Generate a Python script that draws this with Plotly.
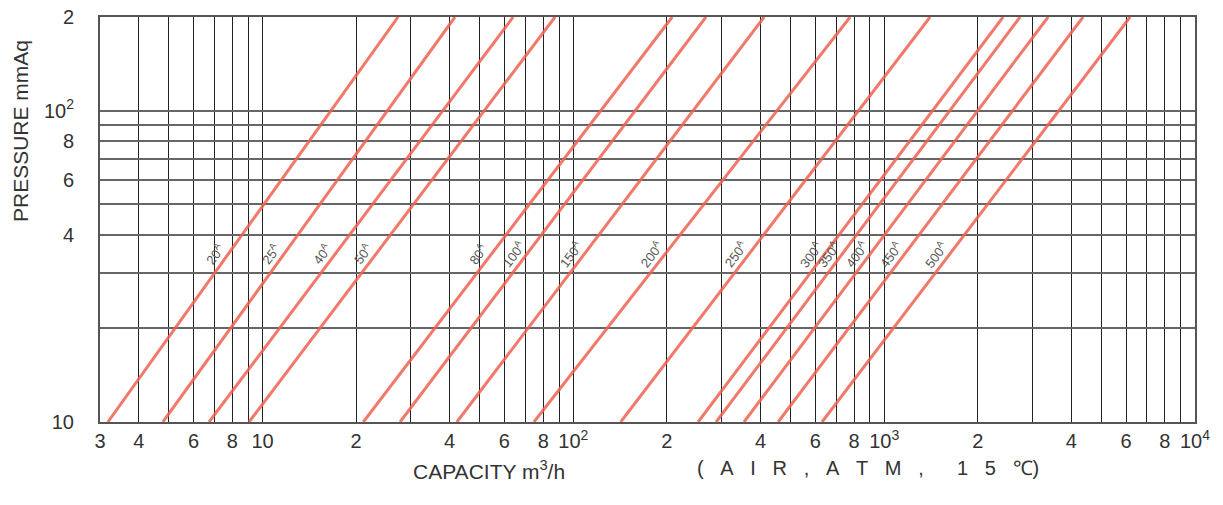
import plotly.graph_objects as go
import numpy as np

# ---- data ----
sizes = ["20", "25", "40", "50", "80", "100", "150", "200", "250", "300", "350", "400", "450", "500"]
q_at_p10 = [3.18, 4.78, 6.73, 9.05, 21.1, 27.7, 42.2, 74.7, 142, 252, 288, 354, 456, 631]      # m3/h at 10 mmAq
q_at_p200 = [27.3, 41.6, 64.0, 87.3, 208, 267, 411, 777, 1405, 2413, 2736, 3368, 4364, 6183]  # m3/h at 200 mmAq
p_low, p_high = 10, 200
label_pressure = 34

x_grid = [3, 4, 5, 6, 7, 8, 9,
          10, 20, 30, 40, 50, 60, 70, 80, 90,
          100, 200, 300, 400, 500, 600, 700, 800, 900,
          1000, 2000, 3000, 4000, 5000, 6000, 7000, 8000, 9000, 10000]
x_text = ["3", "4", "", "6", "", "8", "",
          "10", "2", "", "4", "", "6", "", "8", "",
          "10<sup>2</sup>", "2", "", "4", "", "6", "", "8", "",
          "10<sup>3</sup>", "2", "", "4", "", "6", "", "8", "",
          "10<sup>4</sup>"]
y_grid = [10, 20, 30, 40, 50, 60, 70, 80, 90, 100, 200]
y_text = ["10", "", "", "4", "", "6", "", "8", "", "10<sup>2</sup>", "2"]

FONT = "Liberation Sans, Arial, sans-serif"
RED = "rgba(238,96,80,0.85)"
SP = "\u00a0\u00a0\u00a0"

fig = go.Figure()
for name, qa, qb in zip(sizes, q_at_p10, q_at_p200):
    fig.add_trace(go.Scatter(x=[qa, qb], y=[p_low, p_high], mode="lines",
                             line=dict(color=RED, width=3), showlegend=False,
                             hoverinfo="skip"))
    t = (np.log10(label_pressure) - np.log10(p_low)) / (np.log10(p_high) - np.log10(p_low))
    lq = 10 ** (np.log10(qa) + t * (np.log10(qb) - np.log10(qa)))
    fig.add_annotation(x=np.log10(lq), y=np.log10(label_pressure), xref="x", yref="y",
                       text=name + "<sup>A</sup>", showarrow=False, textangle=-53,
                       xshift=-12, yshift=3,
                       font=dict(family=FONT, size=13, color="#555"))

fig.update_xaxes(type="log", range=[np.log10(3), 4], tickmode="array",
                 tickvals=x_grid, ticktext=x_text, showgrid=True,
                 gridcolor="#222", gridwidth=1.2, ticks="", showline=True,
                 linecolor="#555", linewidth=2, mirror=True, zeroline=False,
                 automargin=False,
                 tickfont=dict(family=FONT, size=20, color="#333"))
fig.update_yaxes(type="log", range=[1, np.log10(200)], tickmode="array",
                 tickvals=y_grid, ticktext=y_text, showgrid=True,
                 gridcolor="#666", gridwidth=2, ticks="", showline=True,
                 linecolor="#555", linewidth=2, mirror=True, zeroline=False,
                 ticklabelstandoff=20, automargin=False,
                 tickfont=dict(family=FONT, size=20, color="#333"))

fig.update_layout(
    width=1223, height=505,
    margin=dict(l=100, r=28, t=17, b=83),
    paper_bgcolor="white", plot_bgcolor="white",
    font=dict(family=FONT),
)
fig.add_annotation(x=0, y=1, xref="paper", yref="paper", xanchor="center", yanchor="middle",
                   xshift=-80, yshift=-114, text="PRESSURE mmAq", showarrow=False,
                   textangle=-90, font=dict(family=FONT, size=21, color="#333"))
fig.add_annotation(x=0, y=0, xref="paper", yref="paper", xanchor="center", yanchor="middle",
                   xshift=389, yshift=-48, text="CAPACITY m<sup>3</sup>/h", showarrow=False,
                   font=dict(family=FONT, size=21, color="#333"))
air = SP.join(["(", "A", "I", "R", ",", "A", "T", "M", ",", "", "1", "5", "℃)"])
fig.add_annotation(x=0, y=0, xref="paper", yref="paper", xanchor="center", yanchor="middle",
                   xshift=768, yshift=-46, text=air, showarrow=False,
                   font=dict(family=FONT, size=20, color="#333"))

fig.write_html("out.html", config={"displayModeBar": False},
               post_script="document.body.style.margin='0px';")
